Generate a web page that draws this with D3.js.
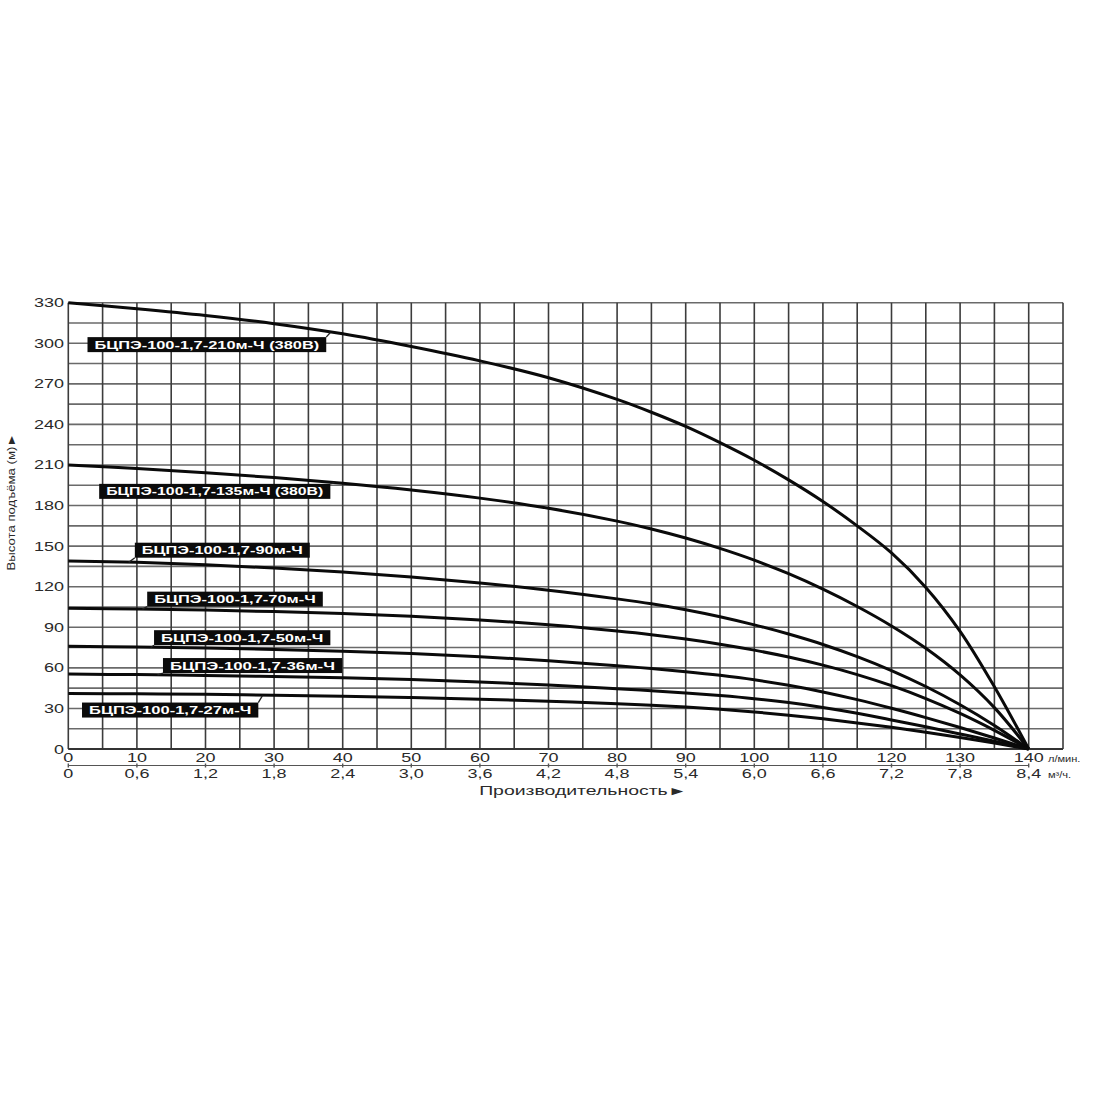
<!DOCTYPE html>
<html><head><meta charset="utf-8">
<script src="https://cdn.jsdelivr.net/npm/d3@7"></script>
<style>html,body{margin:0;padding:0;background:#fff;}</style>
</head><body>
<svg id="chart" width="1100" height="1100"></svg>
<script>
// ---- data ----
const flow = [0,10,20,30,40,50,60,70,80,85,90,95,100,105,110,115,120,125,130,135,140]; // л/мин
const h210 = [330,325.5,320.5,314.5,307,297.6,287,274.5,258.5,249,238.5,226.5,213.5,199,183,165,145,119.5,87,46,0];
const h135 = [210,207.4,204.3,200.7,196.5,191.5,185.5,178,168.5,162.7,156,148.3,139.6,129.6,118.2,105.4,91,74.5,54.8,30.6,0];
const h90  = [139,138,136.2,133.8,130.8,127.1,122.7,117.4,111,107.4,103,97.8,91.8,85,77.3,68.3,58,46.2,32.7,17.4,0];
const h70  = [104,103.5,102.7,101.6,100.1,98.1,95.4,91.8,87.2,84.5,81.3,77.5,73.1,68,62,55,46.8,37.3,26.3,13.8,0];
const h50  = [76,75.4,74.6,73.6,72.3,70.6,68.3,65.3,61.5,59.5,57.2,54.5,51.2,47.1,42.2,36.5,30.1,23.2,15.9,8.1,0];
const h36  = [55.4,55,54.4,53.6,52.6,51.3,49.6,47.4,44.6,43.1,41.4,39.5,37.2,34.3,30.7,26.4,21.5,16.4,11.1,5.7,0];
const h27  = [41,40.8,40.4,39.8,39,38,36.8,35.3,33.4,32.3,31,29.4,27.4,25,22.3,19.3,16,12.4,8.5,4.4,0];
const seriesNames = ["БЦПЭ-100-1,7-210м-Ч (380В)","БЦПЭ-100-1,7-135м-Ч (380В)","БЦПЭ-100-1,7-90м-Ч","БЦПЭ-100-1,7-70м-Ч","БЦПЭ-100-1,7-50м-Ч","БЦПЭ-100-1,7-36м-Ч","БЦПЭ-100-1,7-27м-Ч"];
const seriesValues = [h210,h135,h90,h70,h50,h36,h27];
const yTicks = [0,30,60,90,120,150,180,210,240,270,300,330];
const xTicksLmin = [0,10,20,30,40,50,60,70,80,90,100,110,120,130,140];
const xTicksM3h = ["0","0,6","1,2","1,8","2,4","3,0","3,6","4,2","4,8","5,4","6,0","6,6","7,2","7,8","8,4"];
// label annotation boxes (data units): q0,q1 horizontal extent, h centre, leader from corner to curve point
const labelBoxes = [
  {q0:2.8, q1:37.6, h:299, from:"tr", tq:38.2, th:308},
  {q0:4.5, q1:38.2, h:190.5, from:"tr", tq:38.8, th:197},
  {q0:9.7, q1:35.2, h:147, from:"bl", tq:8.8, th:138},
  {q0:11.5, q1:37.1, h:110.8, from:"bl", tq:10.8, th:103.4},
  {q0:12.5, q1:38.2, h:82.3, from:"bl", tq:12.0, th:75},
  {q0:13.8, q1:39.9, h:61.7, from:"bl", tq:13.0, th:54.8},
  {q0:2.0, q1:27.7, h:28.8, from:"tr", tq:28.3, th:39.5}
];

// ---- drawing ----
const svg = d3.select("#chart");
const x = d3.scaleLinear().domain([0,145]).range([68.3,1063]);
const y = d3.scaleLinear().domain([0,330]).range([749,302.7]);
const textCol = "#2a2a2a";
const sx = 1.5; // horizontal stretch of text as in reference

// grid
const g = svg.append("g");
g.selectAll("line.h").data(d3.range(0,331,15)).join("line")
  .attr("x1",x(0)).attr("x2",x(145)).attr("y1",d=>y(d)).attr("y2",d=>y(d))
  .attr("stroke","#6a6a6a").attr("stroke-width",1.6);
g.selectAll("line.v").data(d3.range(0,146,5)).join("line")
  .attr("y1",y(0)).attr("y2",y(330)).attr("x1",d=>x(d)).attr("x2",d=>x(d))
  .attr("stroke","#3c3c3c").attr("stroke-width",1.6);
g.append("line").attr("x1",x(0)).attr("x2",x(145)).attr("y1",y(0)).attr("y2",y(0))
  .attr("stroke","#333").attr("stroke-width",1.8);

function stretchedText(sel, tx, ty, txt, size, anchor, opts={}){
  return sel.append("text")
    .attr("transform",`translate(${tx},${ty}) scale(${opts.sx||sx},1)`)
    .attr("text-anchor",anchor)
    .attr("font-family","Liberation Sans, Arial, sans-serif")
    .attr("font-size",size).attr("fill",opts.fill||textCol)
    .text(txt);
}

// y tick labels
yTicks.forEach(v=>{
  stretchedText(svg, 64, y(v)+4.5, String(v), 12, "end");
});

// x tick labels (l/min)
xTicksLmin.forEach(v=>{
  stretchedText(svg, x(v), 762, String(v), 12, "middle");
});
// second axis line
svg.append("line").attr("x1",x(0)).attr("x2",x(140)).attr("y1",765.5).attr("y2",765.5)
  .attr("stroke","#555").attr("stroke-width",1.2);
svg.selectAll("line.t2").data(xTicksLmin).join("line")
  .attr("x1",d=>x(d)).attr("x2",d=>x(d)).attr("y1",763.5).attr("y2",767.5)
  .attr("stroke","#555").attr("stroke-width",1.4);
xTicksM3h.forEach((s,i)=>{
  stretchedText(svg, x(xTicksLmin[i]), 777.5, s, 12, "middle");
});
stretchedText(svg, 1048, 762, "л/мин.", 8.5, "start", {sx:1.3});
stretchedText(svg, 1048, 777.5, "м³/ч.", 8.5, "start", {sx:1.3});

// x title
stretchedText(svg, 583, 795, "Производительность►", 12, "middle", {sx:1.62});
// y title
svg.append("text")
  .attr("transform",`translate(15,502) rotate(-90) scale(1.2,1)`)
  .attr("text-anchor","middle")
  .attr("font-family","Liberation Sans, Arial, sans-serif")
  .attr("font-size",11).attr("fill",textCol)
  .text("Высота подъёма (м)►");

// curves
const line = d3.line().x((d,i)=>x(flow[i])).y(d=>y(d)).curve(d3.curveCatmullRom.alpha(0.5));
svg.append("g").selectAll("path").data(seriesValues).join("path")
  .attr("d",d=>line(d)).attr("fill","none").attr("stroke","#0a0a0a")
  .attr("stroke-width",3).attr("stroke-linejoin","round");

// labels
const boxH = 15;
labelBoxes.forEach((b,i)=>{
  const bx0 = x(b.q0), bx1 = x(b.q1), cy = y(b.h);
  const top = cy - boxH/2, bot = cy + boxH/2;
  const fx = b.from==="tr" ? bx1 : bx0;
  const fy = b.from==="tr" ? top : bot;
  svg.append("line").attr("x1",fx).attr("y1",fy).attr("x2",x(b.tq)).attr("y2",y(b.th))
    .attr("stroke","#222").attr("stroke-width",1.3);
  svg.append("rect").attr("x",bx0).attr("y",top).attr("width",bx1-bx0).attr("height",boxH)
    .attr("fill","#0b0b0b");
  svg.append("text").attr("x",bx0+7).attr("y",cy+4)
    .attr("textLength",bx1-bx0-14).attr("lengthAdjust","spacingAndGlyphs")
    .attr("font-family","Liberation Sans, Arial, sans-serif").attr("font-weight","bold")
    .attr("font-size",10.5).attr("fill","#fff")
    .text(seriesNames[i]);
});
</script>
</body></html>
